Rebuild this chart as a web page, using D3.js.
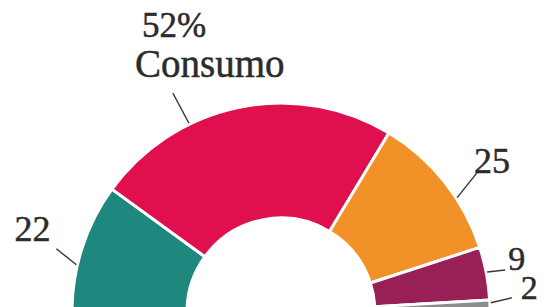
<!DOCTYPE html>
<html>
<head>
<meta charset="utf-8">
<script src="https://cdn.jsdelivr.net/npm/d3@7/dist/d3.min.js"></script>
<style>
  body { margin: 0; background: #fff; }
  svg { display: block; }
  .label { font-family: "Liberation Serif", "DejaVu Serif", serif; fill: #2b2b2b; stroke: #2b2b2b; stroke-width: 0.5; }
</style>
</head>
<body>
<div id="wrapper"></div>
<script>
// data
const categories = ['serie1', 'Consumo', 'serie3', 'serie4', 'serie5']
const values = [22, 52, 25, 9, 2]
const colors = ['#1e887e', '#e0104f', '#f29127', '#991f57', '#8c8c8c']

// label placement (leader angle in degrees, leader vector, text offset)
const labelLayout = [
    { angle: -77, dx: -20, dy: -16, tx: -6, ty: -8, anchor: 'end' },
    { angle: -26, dx: -16, dy: -30, tx: -38, ty: -16, anchor: 'start' },
    { angle: 57, dx: 20, dy: -25, tx: -3, ty: 0, anchor: 'start' },
    { angle: 79, dx: 18, dy: -2, tx: 3, ty: 0, anchor: 'start' },
    { angle: 87.5, dx: 21, dy: -5, tx: 9, ty: 1, anchor: 'start' }
]

function drawChart() {
    const width = 553
    const height = 307
    const cx = 281
    const cy = 312
    const outerR = 209
    const innerR = 94

    const svg = d3.select('#wrapper')
        .append('svg')
        .attr('width', width)
        .attr('height', height)

    const bounds = svg.append('g')
        .attr('transform', `translate(${cx},${cy})`)

    const pie = d3.pie()
        .sort(null)
        .startAngle(-Math.PI / 2)
        .endAngle(Math.PI / 2)

    const arc = d3.arc()
        .innerRadius(innerR)
        .outerRadius(outerR)

    const slices = pie(values)

    bounds.selectAll('.slice')
        .data(slices)
        .enter().append('path')
        .attr('class', 'slice')
        .attr('d', arc)
        .attr('fill', (d, i) => colors[i])
        .attr('stroke', '#fff')
        .attr('stroke-width', 3)
        .attr('stroke-linejoin', 'round')

    // leaders + labels
    slices.forEach((d, i) => {
        const l = labelLayout[i]
        const a = l.angle * Math.PI / 180
        const x0 = Math.sin(a) * (outerR + 1)
        const y0 = -Math.cos(a) * (outerR + 1)
        const x1 = x0 + l.dx
        const y1 = y0 + l.dy

        bounds.append('line')
            .attr('x1', x0).attr('y1', y0)
            .attr('x2', x1).attr('y2', y1)
            .attr('stroke', '#3a3a3a')
            .attr('stroke-width', 1.5)

        if (categories[i] === 'Consumo') {
            bounds.append('text')
                .attr('class', 'label')
                .attr('x', x1 - 31).attr('y', y1 - 56)
                .style('font-size', '35px')
                .text(d.value + '%')
            bounds.append('text')
                .attr('class', 'label')
                .attr('x', x1 + l.tx).attr('y', y1 + l.ty)
                .style('font-size', '39px')
                .text(categories[i])
        } else {
            bounds.append('text')
                .attr('class', 'label')
                .attr('x', x1 + l.tx).attr('y', y1 + l.ty)
                .attr('text-anchor', l.anchor)
                .style('font-size', i >= 3 ? '34px' : '36px')
                .text(d.value)
        }
    })
}

drawChart()
</script>
</body>
</html>
